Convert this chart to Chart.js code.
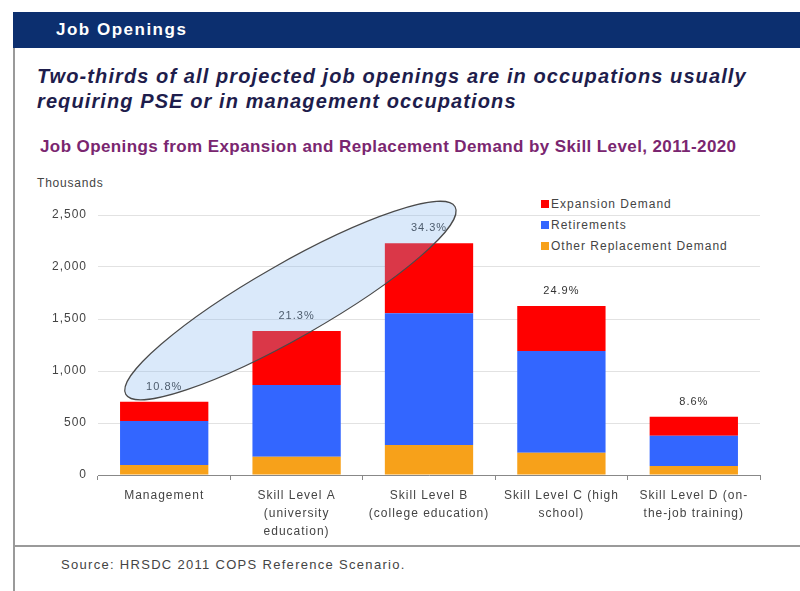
<!DOCTYPE html>
<html>
<head>
<meta charset="utf-8">
<script src="https://cdn.jsdelivr.net/npm/chart.js@4"></script>
<style>
  body { margin: 0; width: 800px; height: 591px; background: #fff; position: relative; overflow: hidden; font-family: "Liberation Sans", Arial, sans-serif; }
  .band { position: absolute; left: 13px; top: 12px; width: 787px; height: 36px; background: #0c2f6f; }
  .band span { position: absolute; left: 43px; top: 8px; color: #fff; font-weight: bold; font-size: 17px; letter-spacing: 1.5px; }
  .vline { position: absolute; left: 13px; top: 48px; width: 2px; height: 543px; background: #9a9a9a; }
  .title { position: absolute; left: 37px; top: 64px; font-size: 20px; font-weight: bold; font-style: italic; color: #1e1d4c; line-height: 25px; letter-spacing: 1.1px; }
  .subtitle { position: absolute; left: 40px; top: 137px; font-size: 17px; font-weight: bold; color: #7a2670; letter-spacing: 0.4px; }
  .units { position: absolute; left: 37px; top: 176px; font-size: 12px; color: #444; letter-spacing: 0.8px; }
  .legend { position: absolute; left: 541px; top: 197px; font-size: 12px; color: #444; letter-spacing: 1px; }
  .legend div { height: 21px; }
  .legend i { display: inline-block; width: 8px; height: 8px; margin-right: 2px; }
  .hrule { position: absolute; left: 13px; top: 545px; width: 787px; height: 2px; background: #9a9a9a; }
  .source { position: absolute; left: 61px; top: 557px; font-size: 13px; color: #444; letter-spacing: 1.3px; }
  #wrap { position: absolute; left: 20px; top: 175px; }
</style>
</head>
<body>
<div class="band"><span>Job Openings</span></div>
<div class="vline"></div>
<div class="title">Two-thirds of all projected job openings are in occupations usually<br>requiring PSE or in management occupations</div>
<div class="subtitle">Job Openings from Expansion and Replacement Demand by Skill Level, 2011-2020</div>
<div class="units">Thousands</div>
<div class="legend" id="legend"></div>
<div id="wrap"><canvas id="JobsCanvas" width="770" height="370"></canvas></div>
<div class="hrule"></div>
<div class="source">Source: HRSDC 2011 COPS Reference Scenario.</div>

<script>
// categories and values (thousands)
const categories = [
    "Management",
    ["Skill Level A", "(university", "education)"],
    ["Skill Level B", "(college education)"],
    ["Skill Level C (high", "school)"],
    ["Skill Level D (on-", "the-job training)"]
];
const otherReplacement = [96, 176, 288, 215, 87];
const retirements = [423, 689, 1267, 977, 291];
const expansion = [186, 520, 673, 433, 183];
const shareLabels = ["10.8%", "21.3%", "34.3%", "24.9%", "8.6%"];
const yTicks = [0, 500, 1000, 1500, 2000, 2500];

const colors = { expansion: "#ff0000", retirements: "#3366ff", other: "#f7a11a" };

// legend (red / blue / orange top to bottom)
const legendItems = [
    ["Expansion Demand", colors.expansion],
    ["Retirements", colors.retirements],
    ["Other Replacement Demand", colors.other]
];
document.getElementById("legend").innerHTML = legendItems
    .map(([name, c]) => `<div><i style="background:${c}"></i>${name}</div>`).join("");

const chartFont = { family: "'Liberation Sans', Arial, sans-serif", size: 12 };

// the source picture has wide, stretched lettering
const spacingPlugin = {
    id: "letterSpacing",
    beforeUpdate(chart) { chart.ctx.letterSpacing = "1px"; }
};

// share labels above each stacked bar
const shareLabelPlugin = {
    id: "shareLabels",
    afterDatasetsDraw(chart) {
        const ctx = chart.ctx;
        const x = chart.scales.x, y = chart.scales.y;
        ctx.save();
        ctx.font = "11px 'Liberation Sans', Arial, sans-serif";
        ctx.fillStyle = "#333";
        ctx.textAlign = "center";
        ctx.textBaseline = "middle";
        shareLabels.forEach((txt, i) => {
            const total = otherReplacement[i] + retirements[i] + expansion[i];
            ctx.fillText(txt, x.getPixelForValue(i), y.getPixelForValue(total) - 15);
        });
        ctx.restore();
    }
};

// translucent ellipse around the first three bars
const ellipsePlugin = {
    id: "highlightEllipse",
    afterDraw(chart, args, opts) {
        const ctx = chart.ctx;
        const x = chart.scales.x, y = chart.scales.y;
        const x1 = x.getPixelForValue(opts.from[0]), y1 = y.getPixelForValue(opts.from[1]);
        const x2 = x.getPixelForValue(opts.to[0]), y2 = y.getPixelForValue(opts.to[1]);
        const cx = (x1 + x2) / 2, cy = (y1 + y2) / 2;
        const rx = Math.hypot(x2 - x1, y2 - y1) / 2;
        const angle = Math.atan2(y2 - y1, x2 - x1);
        ctx.save();
        ctx.beginPath();
        ctx.ellipse(cx, cy, rx, opts.halfWidth, angle, 0, Math.PI * 2);
        ctx.fillStyle = "rgba(132,183,238,0.3)";
        ctx.fill();
        ctx.strokeStyle = "#4a4a4a";
        ctx.lineWidth = 1.2;
        ctx.stroke();
        ctx.restore();
    }
};

new Chart(document.getElementById("JobsCanvas").getContext("2d"), {
    type: "bar",
    data: {
        labels: categories,
        datasets: [
            { label: "Other Replacement Demand", data: otherReplacement, backgroundColor: colors.other },
            { label: "Retirements", data: retirements, backgroundColor: colors.retirements },
            { label: "Expansion Demand", data: expansion, backgroundColor: colors.expansion }
        ]
    },
    options: {
        responsive: false,
        animation: false,
        devicePixelRatio: 1,
        layout: { padding: { top: 40, right: 30, left: 0, bottom: 0 } },
        datasets: { bar: { categoryPercentage: 1, barPercentage: 0.667, borderWidth: 0 } },
        plugins: {
            legend: { display: false },
            tooltip: { enabled: false },
            highlightEllipse: { from: [-0.29, 775], to: [2.197, 2580], halfWidth: 37 }
        },
        scales: {
            x: {
                stacked: true,
                grid: { drawOnChartArea: false, drawTicks: true, tickLength: 5, color: "#888", offset: true },
                border: { color: "#888", width: 1 },
                ticks: { color: "#444", font: { ...chartFont, lineHeight: 1.5 }, padding: 7, maxRotation: 0, autoSkip: false },
                afterFit(scale) { scale.height = 70; }
            },
            y: {
                stacked: true,
                min: 0,
                max: 2500,
                afterBuildTicks(scale) { scale.ticks = yTicks.map(v => ({ value: v })); },
                grid: { color: "#e2e2e2", drawTicks: false },
                border: { display: false },
                ticks: { color: "#444", font: chartFont, padding: 11 },
                afterFit(scale) { scale.width = 78; }
            }
        }
    },
    plugins: [spacingPlugin, shareLabelPlugin, ellipsePlugin]
});
</script>
</body>
</html>
